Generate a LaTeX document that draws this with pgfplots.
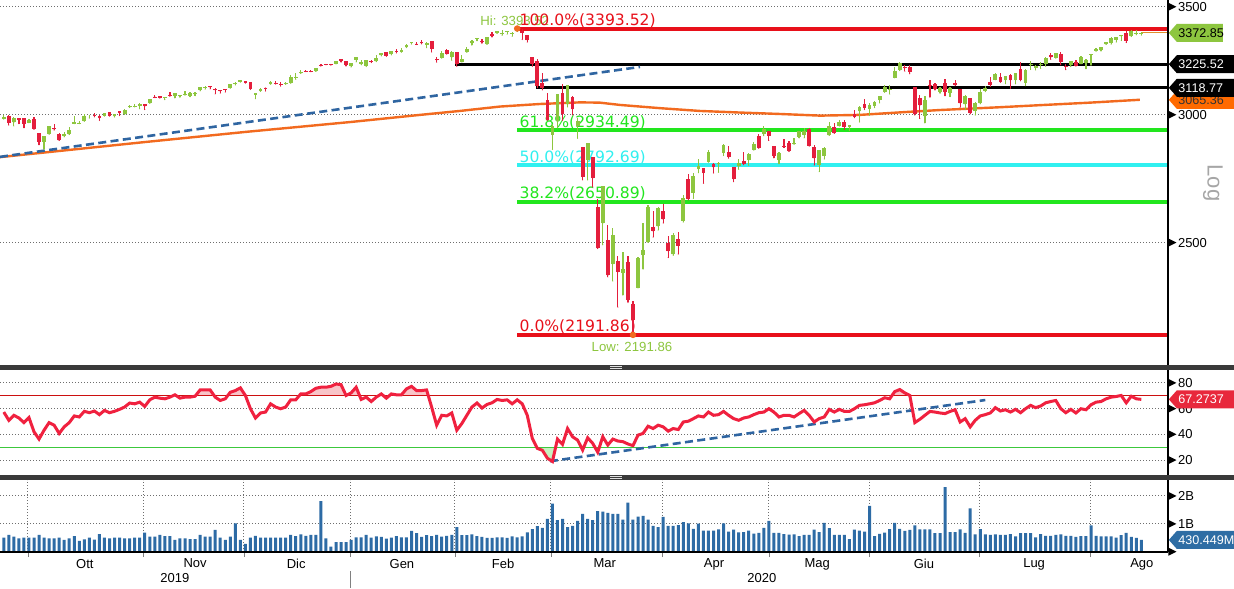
\documentclass[border=0pt]{standalone}
\usepackage{pgfplots}
\pgfplotsset{compat=1.18}
\usepackage{pgfplotstable}
\usepackage{fontspec}
\setmainfont{Liberation Sans}
\newfontfamily\verd{DejaVu Sans}
\definecolor{cgreen}{HTML}{8DC63F}
\definecolor{cred}{HTML}{E41E3C}
\definecolor{fibred}{HTML}{E8101A}
\definecolor{fibgreen}{HTML}{22E61E}
\definecolor{fibcyan}{HTML}{30F0F0}
\definecolor{maorange}{HTML}{F26A1F}
\definecolor{trendblue}{HTML}{2F65A1}
\definecolor{rsired}{HTML}{F0213F}
\definecolor{pinkfill}{HTML}{F8C4C8}
\definecolor{lgreen}{HTML}{C8F0C0}
\definecolor{volblue}{HTML}{2D6BA5}
\definecolor{gridc}{HTML}{6E6E6E}
\definecolor{sepc}{HTML}{3A3A3A}
\definecolor{tagorange}{HTML}{FF6A00}
\definecolor{tagred}{HTML}{E8283C}
\definecolor{tagblue}{HTML}{2E6DA4}
\definecolor{r70}{HTML}{CC1010}
\definecolor{g30}{HTML}{3CC83C}
\definecolor{lastc}{HTML}{E0902C}
\newcommand\lblfont{\fontsize{6.5pt}{7pt}\selectfont}
\newcommand\tagfont{\fontsize{6.3pt}{7pt}\selectfont}
\newcommand\smallfont{\fontsize{6.6pt}{7pt}\selectfont}
\newcommand\fibfont{\verd\fontsize{7.8pt}{8pt}\selectfont}

\pgfplotstableread{
i o h l c
-6 2983.5 2999.2 2982.2 2991.8
-5 2994 2999 2957 2966.6
-4 2968 2989 2953 2984.9
-3 2985.7 2987 2963 2977.6
-2 2985.5 2987 2945.5 2961.8
-1 2967 2983.5 2967 2976.7
0 2983.7 2992.5 2938.7 2940.3
1 2924.8 2924.8 2874.9 2887.6
2 2885.4 2911.1 2855.9 2910.6
3 2918.6 2953.7 2918.6 2952.0
4 2944.2 2959.8 2935.7 2938.8
5 2920.4 2925.5 2892.7 2893.1
6 2911.1 2929.3 2907.4 2919.4
7 2918.6 2948.5 2917.1 2938.1
8 2963.1 2993.3 2963.1 2970.3
9 2965.8 2972.8 2962.9 2966.2
10 2973.6 3003.3 2973.6 2995.7
11 2989.7 2997.5 2986.2 2989.7
12 3000.8 3008.3 2991.8 2998.0
13 2996.8 3000 2976.3 2986.2
14 2996.5 3007.3 2995.4 3006.7
15 3010.7 3014.6 2995.0 2996.0
16 2994.0 3004.8 2991.2 3004.5
17 3014.8 3016.1 2997.2 3010.3
18 3003.3 3027.4 3001.9 3022.6
19 3032.1 3044.1 3032.1 3039.4
20 3035.4 3047.9 3034.8 3036.9
21 3039.7 3050.1 3026.0 3046.8
22 3046.9 3046.9 3023.2 3037.6
23 3050.7 3066.9 3050.7 3066.9
24 3079.0 3085.2 3074.9 3078.3
25 3080.8 3084.0 3072.2 3074.6
26 3075.1 3078.3 3065.9 3076.8
27 3087.0 3097.8 3080.2 3085.2
28 3081.3 3093.1 3073.6 3093.1
29 3080.3 3088.3 3075.8 3087.0
30 3089.3 3102.6 3084.7 3091.8
31 3084.2 3098.1 3078.8 3094.0
32 3090.7 3098.2 3083.3 3096.6
33 3107.9 3120.5 3104.6 3120.5
34 3117.9 3124.2 3112.1 3122.0
35 3127.5 3127.6 3113.5 3120.2
36 3114.7 3119.0 3091.4 3108.5
37 3108.5 3110.1 3094.6 3103.5
38 3111.4 3112.9 3099.3 3110.3
39 3117.4 3133.8 3117.4 3133.6
40 3134.9 3142.7 3131.0 3140.5
41 3145.5 3154.3 3143.4 3153.6
42 3147.2 3150.3 3139.3 3141.0
43 3143.8 3144.3 3110.8 3113.9
44 3087.4 3095.0 3070.3 3093.2
45 3103.5 3119.4 3102.5 3112.8
46 3119.2 3119.4 3103.8 3117.4
47 3134.6 3150.6 3134.6 3145.9
48 3141.9 3148.9 3135.5 3136.0
49 3135.4 3142.1 3126.1 3132.5
50 3135.8 3144.0 3133.2 3141.6
51 3141.2 3176.3 3138.5 3168.6
52 3166.7 3182.7 3156.5 3168.8
53 3183.6 3197.7 3183.6 3191.5
54 3195.4 3198.2 3191.0 3192.5
55 3195.2 3198.5 3191.1 3191.1
56 3192.3 3205.5 3192.3 3205.4
57 3223.3 3225.7 3216.0 3221.2
58 3226.1 3227.8 3222.3 3224.0
59 3225.5 3226.4 3220.5 3223.4
60 3227.2 3240.1 3227.2 3239.9
61 3247.2 3247.9 3234.4 3240.0
62 3240.1 3240.9 3216.6 3221.3
63 3215.2 3231.7 3212.0 3230.8
64 3244.7 3258.1 3235.5 3257.9
65 3226.4 3246.2 3222.3 3234.9
66 3217.6 3246.8 3214.6 3246.3
67 3241.9 3244.9 3232.4 3237.2
68 3238.6 3267.1 3236.7 3253.1
69 3266.0 3275.6 3263.7 3274.7
70 3281.0 3283.0 3260.9 3265.4
71 3271.1 3288.1 3268.4 3288.1
72 3285.4 3294.3 3277.2 3283.2
73 3282.3 3298.7 3280.7 3289.3
74 3303.0 3317.1 3303.0 3316.8
75 3323.7 3329.9 3318.9 3329.6
76 3321.0 3329.8 3316.6 3320.8
77 3330.0 3337.8 3320.0 3321.8
78 3315.8 3326.9 3301.9 3325.5
79 3333.1 3333.2 3281.5 3295.5
80 3247.2 3258.9 3234.5 3243.6
81 3255.4 3285.8 3253.2 3276.2
82 3289.5 3293.5 3271.9 3273.4
83 3256.5 3285.9 3242.8 3283.7
84 3282.3 3282.3 3214.7 3225.5
85 3235.7 3268.4 3235.7 3248.9
86 3280.6 3306.9 3280.6 3297.6
87 3324.9 3337.6 3313.8 3334.7
88 3344.9 3348.0 3334.4 3345.8
89 3335.5 3341.4 3322.1 3327.7
90 3318.3 3352.3 3317.8 3352.1
91 3365.9 3375.6 3352.7 3357.8
92 3370.5 3381.5 3369.7 3379.5
93 3365.9 3385.1 3360.5 3373.9
94 3378.1 3380.7 3366.2 3380.2
95 3369.0 3375.0 3355.6 3370.3
96 3380.4 3393.5 3378.8 3386.2
97 3380.5 3389.2 3341.0 3373.2
98 3360.5 3360.8 3328.5 3337.8
99 3257.6 3259.8 3214.7 3225.9
100 3238.9 3247.0 3118.8 3128.2
101 3140.0 3182.5 3109.0 3116.4
102 3062.5 3097.1 2977.4 2978.8
103 2916.9 2959.7 2855.8 2954.2
104 2974.3 3091.0 2945.2 3090.2
105 3096.5 3136.7 2976.6 3003.4
106 3045.8 3131.0 3034.4 3130.1
107 3075.7 3083.0 2999.8 3023.9
108 2954.2 2985.9 2901.5 2972.4
109 2863.9 2863.9 2734.4 2746.6
110 2813.5 2882.6 2734.0 2882.2
111 2825.6 2825.6 2707.2 2741.4
112 2630.9 2661.0 2478.9 2480.6
113 2570.0 2711.3 2492.4 2711.0
114 2508.6 2563.0 2380.9 2386.1
115 2425.7 2553.9 2367.0 2529.2
116 2436.5 2453.6 2280.5 2398.1
117 2393.5 2467.0 2319.8 2409.4
118 2431.9 2453.0 2295.6 2304.9
119 2290.7 2300.7 2191.9 2237.4
120 2344.4 2449.7 2344.4 2447.3
121 2457.8 2571.4 2407.5 2475.6
122 2501.3 2637.0 2500.7 2630.1
123 2555.9 2615.9 2520.0 2541.5
124 2559.0 2631.8 2545.3 2626.7
125 2614.7 2641.4 2571.2 2584.6
126 2498.1 2522.8 2447.5 2470.5
127 2458.5 2533.2 2455.8 2526.9
128 2514.9 2538.2 2460.0 2488.7
129 2578.3 2676.9 2574.6 2663.7
130 2738.7 2756.9 2657.7 2659.4
131 2685.0 2760.8 2663.3 2750.0
132 2777.0 2818.6 2762.4 2789.8
133 2782.5 2782.5 2721.2 2761.6
134 2805.1 2851.9 2805.1 2846.1
135 2795.6 2801.9 2761.5 2783.4
136 2799.3 2806.5 2764.3 2799.6
137 2842.4 2879.2 2830.9 2874.6
138 2845.6 2869.0 2820.4 2823.2
139 2784.8 2785.5 2727.1 2736.6
140 2787.9 2815.1 2776.0 2799.3
141 2810.4 2844.9 2794.3 2797.8
142 2812.6 2842.7 2791.8 2836.7
143 2854.7 2887.7 2852.9 2878.5
144 2910.0 2921.2 2860.7 2863.4
145 2918.5 2954.9 2912.2 2939.5
146 2930.9 2930.9 2892.5 2912.4
147 2869.1 2869.1 2821.6 2830.7
148 2815.0 2844.2 2797.9 2842.7
149 2868.9 2898.2 2863.6 2868.4
150 2883.1 2891.1 2847.7 2848.4
151 2878.3 2901.9 2876.5 2881.2
152 2908.8 2932.2 2902.9 2929.8
153 2915.5 2944.3 2903.4 2930.3
154 2939.5 2945.8 2869.6 2870.1
155 2865.9 2874.1 2793.2 2820.0
156 2794.5 2852.8 2766.6 2852.5
157 2830.0 2865.0 2816.8 2863.7
158 2913.9 2968.1 2913.9 2953.9
159 2948.6 2964.2 2922.4 2922.9
160 2953.6 2980.3 2953.6 2971.6
161 2970.0 2978.5 2938.6 2948.5
162 2948.1 2956.8 2933.6 2955.5
163 3004.1 3021.7 2988.2 2991.8
164 3015.7 3036.3 2969.8 3036.1
165 3046.6 3068.7 3023.4 3029.7
166 3025.2 3049.2 2998.6 3044.3
167 3038.8 3062.2 3031.5 3055.7
168 3064.2 3081.1 3051.6 3080.8
169 3098.9 3130.9 3098.9 3122.9
170 3111.6 3128.9 3090.4 3112.4
171 3163.8 3211.7 3163.8 3193.9
172 3199.9 3233.1 3196.0 3232.4
173 3213.3 3222.7 3193.1 3207.2
174 3213.4 3223.3 3181.5 3190.1
175 3123.5 3123.5 2999.5 3002.1
176 3071.0 3088.4 2984.5 3041.3
177 2993.8 3079.8 2965.7 3066.6
178 3131.0 3153.5 3076.1 3124.7
179 3136.1 3141.2 3108.0 3113.5
180 3101.6 3120.0 3093.5 3115.3
181 3140.3 3155.5 3083.1 3097.7
182 3094.4 3120.9 3079.4 3117.9
183 3138.7 3154.9 3127.1 3131.3
184 3114.4 3115.0 3032.1 3050.3
185 3046.6 3086.3 3024.0 3083.8
186 3073.2 3073.7 3004.6 3009.1
187 3018.6 3053.9 2999.7 3053.2
188 3050.2 3111.5 3047.8 3100.3
189 3105.9 3128.4 3101.2 3115.9
190 3143.6 3165.8 3124.5 3130.0
191 3155.3 3182.6 3155.3 3179.7
192 3166.4 3184.2 3142.9 3145.3
193 3153.1 3171.8 3136.5 3169.9
194 3176.2 3179.8 3115.7 3152.1
195 3152.5 3186.8 3136.2 3185.0
196 3205.1 3235.3 3149.4 3155.2
197 3141.1 3201.0 3127.7 3197.5
198 3226.0 3238.3 3200.8 3226.6
199 3208.4 3220.4 3198.6 3215.6
200 3224.2 3233.5 3205.7 3224.7
201 3224.3 3258.6 3215.2 3251.8
202 3268.5 3277.3 3247.8 3257.3
203 3254.9 3279.3 3253.1 3276.0
204 3271.6 3280.0 3222.7 3235.7
205 3218.6 3227.3 3200.0 3215.6
206 3219.8 3241.4 3214.3 3239.4
207 3234.3 3243.7 3216.2 3218.4
208 3227.2 3264.7 3227.2 3258.4
209 3231.8 3250.9 3204.1 3246.2
210 3270.5 3272.2 3220.3 3271.1
211 3288.3 3302.7 3284.5 3294.6
212 3289.9 3306.8 3286.1 3306.5
213 3317.4 3330.8 3317.4 3327.8
214 3323.2 3351.0 3318.1 3349.2
215 3340.1 3352.5 3328.7 3351.3
216 3356.0 3363.3 3335.4 3360.5
217 3370.3 3381.0 3326.4 3333.7
218 3355.5 3387.9 3355.5 3380.4
219 3372.9 3387.2 3363.4 3373.4
220 3368.7 3378.5 3361.6 3372.85
}\ohlc

\pgfplotstableread{
i v
-7 2824
22 2886
42 2928
63 2970
76.7 3000
84.6 3017
92.6 3036
100.5 3047
108.5 3054
112.4 3053
116.4 3043
124.4 3029
132.3 3017
140.3 3010
148.2 3004
156.2 2997
164.1 3000
172.1 3011
180 3021
191.9 3033
199.9 3042
209.8 3053
219.7 3065.36
}\ma

\pgfplotstableread{
i v
-6 57.4
-5 51.0
-4 54.9
-3 52.8
-2 49.2
-1 53.1
0 42.1
1 36.4
2 43.3
3 49.2
4 47.2
5 40.8
6 45.9
7 49.2
8 54.4
9 53.6
10 58.0
11 56.9
12 58.2
13 55.4
14 58.7
15 56.9
16 58.0
17 59.5
18 61.3
19 64.4
20 63.8
21 65.1
22 61.8
23 66.9
24 69.0
25 68.2
26 67.7
27 69.0
28 70.8
29 68.2
30 69.0
31 69.0
32 69.7
33 74.6
34 74.6
35 74.6
36 69.0
37 66.4
38 67.7
39 72.8
40 74.1
41 76.2
42 70.3
43 60.0
44 52.8
45 56.7
46 57.4
47 63.8
48 61.3
49 60.0
50 61.3
51 66.9
52 66.9
53 71.5
54 71.5
55 73.3
56 75.9
57 76.7
58 76.7
59 77.4
60 79.2
61 78.7
62 70.3
63 72.3
64 76.7
65 67.2
66 69.0
67 65.6
68 69.0
69 71.5
70 68.2
71 71.5
72 70.8
73 70.8
74 75.4
75 77.4
76 74.1
77 74.1
78 74.6
79 61.3
80 47.2
81 54.9
82 54.4
83 56.7
84 43.3
85 48.5
86 54.9
87 61.3
88 64.4
89 60.5
90 63.3
91 64.6
92 67.2
93 66.4
94 66.9
95 63.8
96 66.9
97 63.8
98 54.9
99 36.9
100 29.2
101 27.7
102 21.5
103 19.0
104 36.4
105 32.3
106 44.6
107 38.2
108 35.6
109 27.9
110 37.4
111 33.1
112 26.2
113 38.2
114 31.8
115 36.4
116 34.9
117 34.4
118 32.6
119 31.3
120 39.5
121 40.8
122 46.4
123 44.6
124 47.2
125 45.9
126 42.6
127 44.6
128 43.8
129 49.7
130 50.3
131 52.3
132 54.4
133 53.6
134 57.4
135 54.9
136 55.4
137 57.9
138 54.9
139 52.3
140 51.0
141 52.8
142 53.6
143 55.4
144 56.9
145 57.4
146 60.0
147 57.4
148 53.6
149 54.9
150 54.9
151 53.6
152 56.2
153 58.7
154 54.9
155 49.7
156 52.3
157 53.6
158 59.5
159 57.4
160 59.5
161 57.9
162 57.9
163 60.0
164 62.6
165 63.1
166 63.8
167 64.6
168 66.4
169 68.5
170 67.7
171 73.3
172 74.9
173 72.3
174 70.3
175 49.2
176 51.8
177 54.9
178 57.9
179 57.4
180 56.7
181 56.2
182 57.9
183 59.2
184 49.7
185 52.3
186 45.9
187 51.0
188 54.4
189 55.4
190 56.7
191 60.8
192 58.2
193 59.2
194 57.4
195 59.5
196 56.9
197 60.0
198 62.6
199 60.8
200 62.1
201 64.6
202 65.6
203 66.4
204 60.0
205 56.9
206 59.5
207 56.7
208 60.0
209 59.2
210 63.1
211 65.1
212 65.6
213 67.7
214 69.0
215 69.5
216 70.3
217 64.6
218 69.7
219 67.7
220 67.27
}\rsi

\pgfplotstableread{
i v
-6 0.51
-5 0.61
-4 0.55
-3 0.49
-2 0.51
-1 0.51
0 0.51
1 0.61
2 0.51
3 0.49
4 0.49
5 0.51
6 0.43
7 0.49
8 0.57
9 0.40
10 0.45
11 0.51
12 0.44
13 0.64
14 0.51
15 0.49
16 0.51
17 0.51
18 0.49
19 0.49
20 0.51
21 0.51
22 0.69
23 0.55
24 0.55
25 0.61
26 0.57
27 0.57
28 0.43
29 0.49
30 0.49
31 0.46
32 0.46
33 0.61
34 0.55
35 0.55
36 0.79
37 0.51
38 0.43
39 0.55
40 1.02
41 0.43
42 0.29
43 0.51
44 0.58
45 0.51
46 0.51
47 0.51
48 0.51
49 0.51
50 0.51
51 0.61
52 0.57
53 0.63
54 0.58
55 0.61
56 0.61
57 1.82
58 0.49
59 0.19
60 0.35
61 0.35
62 0.35
63 0.43
64 0.52
65 0.52
66 0.61
67 0.51
68 0.56
69 0.54
70 0.48
71 0.51
72 0.57
73 0.52
74 0.52
75 0.75
76 0.67
77 0.54
78 0.60
79 0.57
80 0.61
81 0.55
82 0.58
83 0.61
84 0.89
85 0.60
86 0.60
87 0.63
88 0.57
89 0.54
90 0.50
91 0.50
92 0.52
93 0.52
94 0.50
95 0.56
96 0.52
97 0.56
98 0.70
99 0.82
100 0.92
101 0.86
102 1.18
103 1.73
104 1.14
105 1.18
106 0.89
107 0.93
108 1.11
109 1.36
110 1.18
111 1.14
112 1.46
113 1.44
114 1.40
115 1.36
116 1.36
117 1.16
118 1.76
119 1.16
120 1.26
121 1.29
122 1.16
123 0.93
124 0.89
125 1.25
126 0.93
127 0.93
128 0.96
129 1.07
130 1.02
131 0.83
132 1.01
133 0.76
134 0.76
135 0.76
136 0.81
137 1.02
138 0.73
139 0.80
140 0.70
141 0.71
142 0.76
143 0.66
144 0.68
145 0.86
146 1.11
147 0.68
148 0.68
149 0.64
150 0.62
151 0.63
152 0.57
153 0.61
154 0.61
155 0.80
156 0.71
157 1.04
158 0.85
159 0.61
160 0.61
161 0.61
162 0.46
163 0.80
164 0.76
165 0.73
166 1.65
167 0.57
168 0.65
169 0.69
170 0.82
171 1.04
172 0.83
173 0.75
174 0.79
175 0.95
176 0.81
177 0.81
178 0.81
179 0.67
180 0.67
181 2.32
182 0.71
183 0.71
184 0.81
185 0.68
186 1.56
187 0.63
188 0.82
189 0.63
190 0.61
191 0.63
192 0.61
193 0.61
194 0.64
195 0.56
196 0.67
197 0.67
198 0.67
199 0.52
200 0.64
201 0.58
202 0.58
203 0.61
204 0.63
205 0.58
206 0.58
207 0.54
208 0.57
209 0.57
210 0.95
211 0.58
212 0.56
213 0.56
214 0.56
215 0.51
216 0.60
217 0.68
218 0.54
219 0.50
220 0.43
}\vol

\newcommand{\mgrid}{-1.2,21.7,41.7,62.8,83.6,102.7,124.8,146,165.9,187.8,209.8}

\pgfplotsset{
  chartbase/.style={
    scale only axis, width=584pt,
    xmin=-6.755, xmax=225.3,
    clip mode=individual,
    axis line style={draw=none},
    minor xtick=\mgrid, xminorgrids, ymajorgrids,
    ytick pos=right, yticklabel pos=right,
    major tick length=0pt, minor tick length=0pt,
    yticklabel style={anchor=west, inner sep=0pt, font=\lblfont},
    grid style={gridc, line width=0.5pt, dash pattern=on 0.5pt off 1pt},
    minor grid style={gridc, line width=0.5pt, dash pattern=on 0.5pt off 1pt},
  },
  candle/.style={only marks, mark=*, mark size=0.01pt,
    mark options={draw=none, fill=none}, forget plot,
    error bars/y dir=plus, error bars/y explicit, error bars/error mark=none,
    error bars/error bar style={line width=#1}},
}

\newcommand{\tagshape}[5]{%
  \fill[#2] (#1) ++(0.4pt,0) -- ++(4pt,4.5pt) -- ++(#5,0) -- ++(0,-9pt) -- ++(-#5,0) -- cycle;
  \node[anchor=west, inner sep=0pt, text=#3, font=\tagfont] at ([xshift=5pt]#1) {#4};
}

\newsavebox\tribox
\newcommand\tri{\usebox\tribox\kern0.8pt}

\begin{document}%
\sbox\tribox{\tikz[baseline=-2.3pt]\fill (0,-2pt)--(4pt,0)--(0,2pt)--cycle;}%
\begin{tikzpicture}
\useasboundingbox (0,0) rectangle (617pt,294pt);
\clip (0,0) rectangle (617pt,294pt);
\fill[white] (0,0) rectangle (617pt,294pt);

% ---------------- price panel ----------------
\begin{axis}[chartbase,
  at={(0pt,111.5pt)}, anchor=south west, height=182.5pt,
  ymode=log, ymin=2100, ymax=3535,
  xtick=\empty,
  ytick={2500,3000,3500}, yticklabels={\tri 2500,\tri 3000,\tri 3500},
]
\addplot[fibred, line width=2pt, forget plot] coordinates {(96,3393.52) (225.3,3393.52)};
\addplot[black, line width=1.5pt, forget plot] coordinates {(83.6,3225.52) (225.3,3225.52)};
\addplot[black, line width=1.5pt, forget plot] coordinates {(99.7,3118.77) (225.3,3118.77)};
\addplot[fibgreen, line width=2pt, forget plot] coordinates {(96,2934.49) (225.3,2934.49)};
\addplot[fibcyan, line width=2pt, forget plot] coordinates {(96,2792.69) (225.3,2792.69)};
\addplot[fibgreen, line width=2pt, forget plot] coordinates {(96,2650.89) (225.3,2650.89)};
\addplot[fibred, line width=2pt, forget plot] coordinates {(96,2191.86) (225.3,2191.86)};
\node[anchor=base, inner sep=0pt, text=cgreen, font=\smallfont, yshift=1.5pt] at (axis cs:95.5,3393.52) {Hi: 3393.52};
\node[anchor=base west, inner sep=0pt, text=fibred, font=\fibfont, yshift=1.5pt] at (axis cs:96.4,3393.52) {100.0\%(3393.52)};
\node[anchor=base west, inner sep=0pt, text=fibgreen, font=\fibfont, yshift=1.5pt] at (axis cs:96.4,2934.49) {61.8\%(2934.49)};
\node[anchor=base west, inner sep=0pt, text=fibcyan, font=\fibfont, yshift=1.5pt] at (axis cs:96.4,2792.69) {50.0\%(2792.69)};
\node[anchor=base west, inner sep=0pt, text=fibgreen, font=\fibfont, yshift=1.5pt] at (axis cs:96.4,2650.89) {38.2\%(2650.89)};
\node[anchor=base west, inner sep=0pt, text=fibred, font=\fibfont, yshift=1.5pt] at (axis cs:96.4,2191.86) {0.0\%(2191.86)};
\node[anchor=base, inner sep=0pt, text=cgreen, font=\smallfont, yshift=-8.5pt] at (axis cs:118.8,2191.86) {Low: 2191.86};
\addplot[maorange, line width=1.2pt, forget plot] table[x=i,y=v]{\ma};
\addplot[trendblue, line width=1.3pt, dash pattern=on 4pt off 2.2pt, forget plot] coordinates {(-6.75,2825.5) (120.4,3212.6)};
\addplot[lastc, line width=0.6pt, forget plot] coordinates {(220,3372.85) (225.3,3372.85)};
\addplot[cgreen, restrict expr to domain={\thisrow{c}-\thisrow{o}}{0:100000}, candle=0.6pt]
  table[x=i, y=l, y error plus expr=\thisrow{h}-\thisrow{l}]{\ohlc};
\addplot[cgreen, restrict expr to domain={\thisrow{c}-\thisrow{o}}{0:100000}, candle=1.9pt]
  table[x=i, y=o, y error plus expr=\thisrow{c}-\thisrow{o}]{\ohlc};
\addplot[cred, restrict expr to domain={\thisrow{c}-\thisrow{o}}{-100000:-0.0001}, candle=0.6pt]
  table[x=i, y=l, y error plus expr=\thisrow{h}-\thisrow{l}]{\ohlc};
\addplot[cred, restrict expr to domain={\thisrow{c}-\thisrow{o}}{-100000:-0.0001}, candle=1.9pt]
  table[x=i, y=c, y error plus expr=\thisrow{o}-\thisrow{c}]{\ohlc};
\addplot[only marks, mark=*, mark size=1.4pt, color=maorange, forget plot] coordinates {(96,3393.52) (119,2191.86)};
\coordinate (tp1) at (axis cs:225.3,3372.85);
\coordinate (tp2) at (axis cs:225.3,3225.52);
\coordinate (tp3) at (axis cs:225.3,3118.77);
\coordinate (tp4) at (axis cs:225.3,3065.36);
\draw[black, line width=0.6pt] (rel axis cs:1,0) -- (rel axis cs:1,1);
\end{axis}

% ---------------- RSI panel ----------------
\begin{axis}[chartbase,
  at={(0pt,56.5pt)}, anchor=south west, height=52.5pt,
  ymin=8.5, ymax=90.1,
  xtick=\empty,
  ytick={20,40,60,80}, yticklabels={\tri 20,\tri 40,\tri 60,\tri 80},
]
\begin{scope}
\clip (axis cs:-6.75,70) rectangle (axis cs:225.3,90);
\addplot[fill=pinkfill, draw=none, forget plot] table[x=i,y=v]{\rsi} \closedcycle;
\end{scope}
\begin{scope}
\clip (axis cs:-6.75,8.5) rectangle (axis cs:225.3,30);
\addplot[fill=lgreen, draw=none, forget plot] table[x=i,y=v]{\rsi} -- (axis cs:220,90) -- (axis cs:-6,90) -- cycle;
\end{scope}
\addplot[r70, line width=0.5pt, forget plot] coordinates {(-6.75,70) (225.3,70)};
\addplot[g30, line width=0.5pt, forget plot] coordinates {(-6.75,30) (225.3,30)};
\addplot[trendblue, line width=1.3pt, dash pattern=on 4pt off 2.2pt, forget plot] coordinates {(102.5,19.2) (189,66.75)};
\addplot[rsired, line width=1.5pt, forget plot] table[x=i,y=v]{\rsi};
\coordinate (tr1) at (axis cs:225.3,67.27);
\draw[black, line width=0.6pt] (rel axis cs:1,0) -- (rel axis cs:1,1);
\end{axis}

% ---------------- volume panel ----------------
\begin{axis}[chartbase,
  at={(0pt,18pt)}, anchor=south west, height=36pt,
  ymin=0, ymax=2.571,
  ytick={0,1,2}, yticklabels={\tri,\tri 1B,\tri 2B},
  xtick={10.1,32,52.1,73.1,93.2,113.4,135.1,155.6,176.8,198.7,220.1},
  xticklabels={Ott,Nov,Dic,Gen,Feb,Mar,Apr,Mag,Giu,Lug,Ago},
  xtick pos=bottom, tick align=outside, minor tick length=2.5pt,
  xticklabel style={font=\lblfont, anchor=north, inner sep=0pt, yshift=-3.3pt},
]
\addplot[ybar, bar width=1.5pt, fill=volblue, draw=none, forget plot] table[x=i,y=v]{\vol};
\coordinate (tv1) at (axis cs:225.3,0.43);
\coordinate (y19) at (axis cs:28,0);
\coordinate (y20) at (axis cs:144.6,0);
\coordinate (ysep) at (axis cs:62.8,0);
\draw[black, line width=0.6pt] (rel axis cs:0,0) -- (rel axis cs:1,0);
\draw[black, line width=0.6pt] (rel axis cs:1,0) -- (rel axis cs:1,1);
\end{axis}

\node[font=\lblfont] at ([yshift=-13pt]y19) {2019};
\node[font=\lblfont] at ([yshift=-13pt]y20) {2020};
\draw[gray, line width=0.5pt] ([yshift=-9.5pt]ysep) -- ([yshift=-18pt]ysep);

% separators
\fill[sepc] (0,109pt) rectangle (617pt,111.5pt);
\fill[sepc] (0,54pt) rectangle (617pt,56.5pt);
\draw[white!75!gray, line width=0.3pt] (305pt,110.7pt) -- (311pt,110.7pt) (305pt,109.8pt) -- (311pt,109.8pt);
\draw[white!75!gray, line width=0.3pt] (305pt,55.7pt) -- (311pt,55.7pt) (305pt,54.8pt) -- (311pt,54.8pt);

% value tags
\tagshape{tp4}{tagorange}{black!80}{3065.36}{40pt}
\tagshape{tp3}{black}{white}{3118.77}{40pt}
\tagshape{tp2}{black}{white}{3225.52}{40pt}
\tagshape{tp1}{cgreen}{black}{3372.85}{23pt}
\tagshape{tr1}{tagred}{white}{67.2737}{40pt}
\tagshape{tv1}{tagblue}{white}{430.449M}{40pt}

\node[rotate=-90, text=black!35, font=\fontsize{11pt}{11pt}\selectfont] at (606.5pt,202.5pt) {Log};
\end{tikzpicture}%
\end{document}
